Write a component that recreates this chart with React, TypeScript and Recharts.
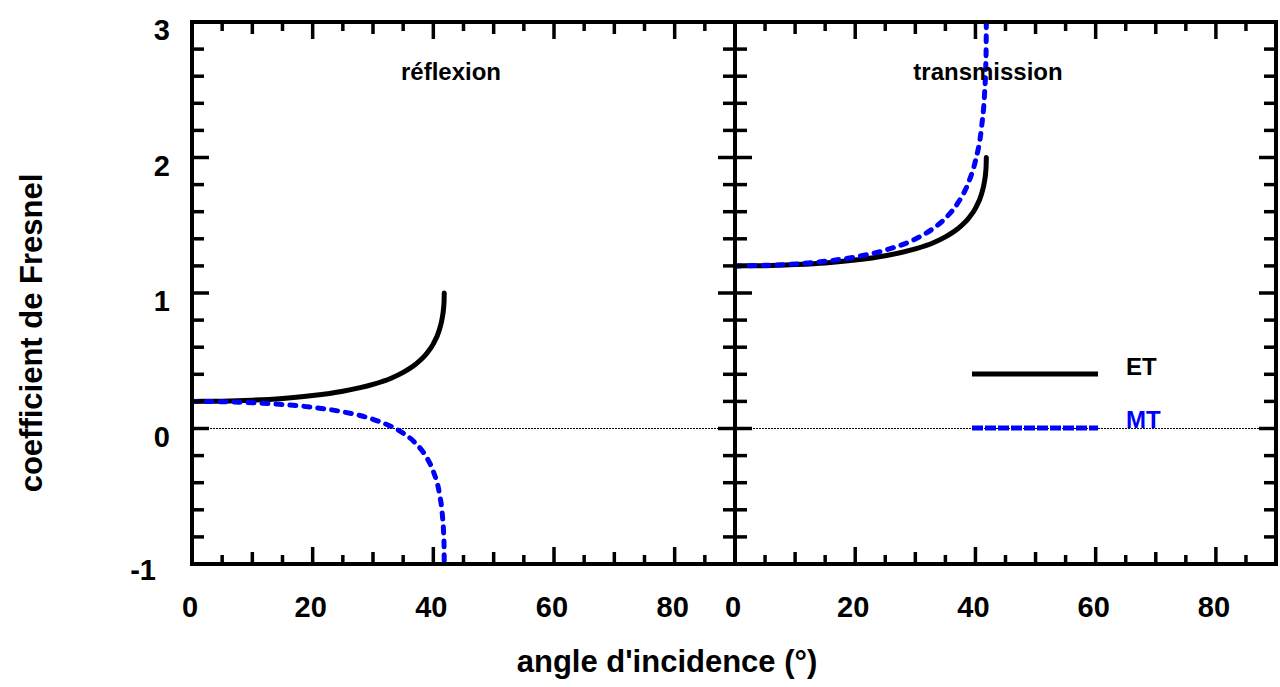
import React from 'react';
import { LineChart, Line, XAxis, YAxis, ReferenceLine } from 'recharts';

// ---- data ----
const ANGLES = [0, 5, 10, 15, 20, 25, 30, 33, 35, 37, 39, 40, 41, 41.5, 41.7, 41.78, 41.81];
const REFL_ET = [0.2, 0.202, 0.209, 0.222, 0.243, 0.275, 0.325, 0.371, 0.414, 0.472, 0.559, 0.625, 0.729, 0.822, 0.889, 0.941, 1.0];
const REFL_MT = [0.2, 0.198, 0.19, 0.177, 0.156, 0.123, 0.068, 0.015, -0.034, -0.106, -0.222, -0.316, -0.478, -0.639, -0.767, -0.871, -1.0];
const TRANS_ET = [1.2, 1.202, 1.21, 1.222, 1.243, 1.275, 1.325, 1.371, 1.414, 1.472, 1.559, 1.625, 1.729, 1.822, 1.889, 1.941, 2.0];
const TRANS_MT = [1.2, 1.204, 1.214, 1.234, 1.266, 1.316, 1.398, 1.477, 1.552, 1.659, 1.833, 1.975, 2.217, 2.458, 2.65, 2.807, 3.0];

const X_TICKS = [0, 5, 10, 15, 20, 25, 30, 35, 40, 45, 50, 55, 60, 65, 70, 75, 80, 85, 90];
const X_LABELS = [0, 20, 40, 60, 80];
const Y_TICKS = [-1, -0.8, -0.6, -0.4, -0.2, 0, 0.2, 0.4, 0.6, 0.8, 1, 1.2, 1.4, 1.6, 1.8, 2, 2.2, 2.4, 2.6, 2.8, 3];
const Y_LABELS = [-1, 0, 1, 2, 3];

const PANEL_TITLES = ['réflexion', 'transmission'];
const SERIES_NAMES = ['ET', 'MT'];
const X_TITLE = "angle d'incidence (°)";
const Y_TITLE = 'coefficient de Fresnel';

const reflData = ANGLES.map((a, i) => ({ angle: a, et: REFL_ET[i], mt: REFL_MT[i] }));
const transData = ANGLES.map((a, i) => ({ angle: a, et: TRANS_ET[i], mt: TRANS_MT[i] }));

// ---- styles ----
const FONT = '"Liberation Sans", Arial, Helvetica, sans-serif';
const BLUE = '#0000ff';
const TM = 10; // tick margin used to recover axis position
const AXIS_LINE = { stroke: '#000', strokeWidth: 4, strokeLinecap: 'square' as const };
const TICK_W = 3.5;
const TICK_FONT = 29;

const xLen = (v: number) => (v % 20 === 0 ? 17 : v % 10 === 0 ? 12 : 9);
const isInt = (v: number) => Math.abs(v - Math.round(v)) < 1e-6;
const yLen = (v: number) => (isInt(v) ? 17 : 12);

const BottomTick = (props: any) => {
  const { x, y, payload } = props;
  const v = payload.value;
  const ay = y - TM;
  const showLabel = X_LABELS.includes(v);
  return (
    <g>
      <line x1={x} x2={x} y1={ay} y2={ay - xLen(v)} stroke="#000" strokeWidth={TICK_W} />
      {showLabel && (
        <text x={x - 2} y={ay + 53} textAnchor="middle" fontFamily={FONT} fontWeight="bold" fontSize={TICK_FONT} fill="#000">
          {v}
        </text>
      )}
    </g>
  );
};

const TopTick = (props: any) => {
  const { x, y, payload } = props;
  const v = payload.value;
  const ay = y + TM;
  return <line x1={x} x2={x} y1={ay} y2={ay + xLen(v)} stroke="#000" strokeWidth={TICK_W} />;
};

const makeLeftTick = (withLabels: boolean) => (props: any) => {
  const { x, y, payload } = props;
  const v = payload.value;
  const ax = x + TM;
  const showLabel = withLabels && Y_LABELS.some((l) => Math.abs(l - v) < 1e-6);
  return (
    <g>
      <line x1={ax} x2={ax + yLen(v)} y1={y} y2={y} stroke="#000" strokeWidth={TICK_W} />
      {showLabel && (
        <text
          x={v < 0 ? ax - 36 : ax - 22}
          y={y + (v < 0 ? 16 : 18)}
          textAnchor="end"
          fontFamily={FONT}
          fontWeight="bold"
          fontSize={TICK_FONT}
          fill="#000"
        >
          {Math.round(v)}
        </text>
      )}
    </g>
  );
};

const RightTick = (props: any) => {
  const { x, y, payload } = props;
  const v = payload.value;
  const ax = x - TM;
  return <line x1={ax} x2={ax - yLen(v)} y1={y} y2={y} stroke="#000" strokeWidth={TICK_W} />;
};

const LeftTickLabeled = makeLeftTick(true);
const LeftTickPlain = makeLeftTick(false);

type PanelProps = {
  data: any[];
  margin: { top: number; right: number; bottom: number; left: number };
  leftWidth: number;
  rightWidth: number;
  labeled: boolean;
};

const Panel = ({ data, margin, leftWidth, rightWidth, labeled }: PanelProps) => (
  <LineChart width={1280} height={687} data={data} margin={margin}>
    <XAxis
      xAxisId="b"
      orientation="bottom"
      dataKey="angle"
      type="number"
      domain={[0, 90]}
      allowDataOverflow
      ticks={X_TICKS}
      interval={0}
      tickSize={0}
      tickMargin={TM}
      tickLine={false}
      tick={BottomTick}
      axisLine={AXIS_LINE}
      height={60}
    />
    <XAxis
      xAxisId="t"
      orientation="top"
      dataKey="angle"
      type="number"
      domain={[0, 90]}
      allowDataOverflow
      ticks={X_TICKS}
      interval={0}
      tickSize={0}
      tickMargin={TM}
      tickLine={false}
      tick={TopTick}
      axisLine={AXIS_LINE}
      height={10}
    />
    <YAxis
      yAxisId="l"
      orientation="left"
      type="number"
      domain={[-1, 3]}
      allowDataOverflow
      ticks={Y_TICKS}
      interval={0}
      tickSize={0}
      tickMargin={TM}
      tickLine={false}
      tick={labeled ? LeftTickLabeled : LeftTickPlain}
      axisLine={AXIS_LINE}
      width={leftWidth}
    />
    <YAxis
      yAxisId="r"
      orientation="right"
      type="number"
      domain={[-1, 3]}
      allowDataOverflow
      ticks={Y_TICKS}
      interval={0}
      tickSize={0}
      tickMargin={TM}
      tickLine={false}
      tick={RightTick}
      axisLine={AXIS_LINE}
      width={rightWidth}
    />
    <ReferenceLine xAxisId="b" yAxisId="l" y={0} stroke="#000" strokeWidth={1} strokeDasharray="2 1" />
    <Line
      xAxisId="b"
      yAxisId="l"
      type="monotone"
      dataKey="et"
      name={SERIES_NAMES[0]}
      stroke="#000"
      strokeWidth={5}
      strokeLinecap="round"
      dot={false}
      isAnimationActive={false}
    />
    <Line
      xAxisId="b"
      yAxisId="l"
      type="monotone"
      dataKey="mt"
      name={SERIES_NAMES[1]}
      stroke={BLUE}
      strokeWidth={5}
      strokeLinecap="round"
      strokeDasharray="6 8"
      dot={false}
      isAnimationActive={false}
    />
  </LineChart>
);

const abs: React.CSSProperties = { position: 'absolute', left: 0, top: 0 };

export default function App() {
  return (
    <div style={{ position: 'absolute', left: 0, top: 0, width: 1280, height: 687, background: '#fff', overflow: 'hidden' }}>
      <div style={abs}>
        <Panel data={reflData} margin={{ top: 12, right: 535, bottom: 63, left: 132 }} leftWidth={60} rightWidth={10} labeled />
      </div>
      <div style={abs}>
        <Panel data={transData} margin={{ top: 12, right: 0, bottom: 63, left: 725 }} leftWidth={10} rightWidth={4} labeled={false} />
      </div>
      <svg width={1280} height={687} style={{ ...abs, pointerEvents: 'none' }}>
        <g fontFamily={FONT} fontWeight="bold">
          <text x={451} y={80} textAnchor="middle" fontSize={24} fill="#000">{PANEL_TITLES[0]}</text>
          <text x={988} y={80} textAnchor="middle" fontSize={24} fill="#000">{PANEL_TITLES[1]}</text>
          <text x={667} y={672} textAnchor="middle" fontSize={31} fill="#000">{X_TITLE}</text>
          <text x={42} y={333} textAnchor="middle" fontSize={31} fill="#000" transform="rotate(-90 42 333)">{Y_TITLE}</text>
          <line x1={972} x2={1098} y1={374} y2={374} stroke="#000" strokeWidth={5} />
          <text x={1126} y={375} fontSize={24} fill="#000">{SERIES_NAMES[0]}</text>
          <line x1={972} x2={1098} y1={428} y2={428} stroke={BLUE} strokeWidth={5} strokeDasharray="11 2" />
          <text x={1126} y={428} fontSize={24} fill={BLUE}>{SERIES_NAMES[1]}</text>
        </g>
      </svg>
    </div>
  );
}
